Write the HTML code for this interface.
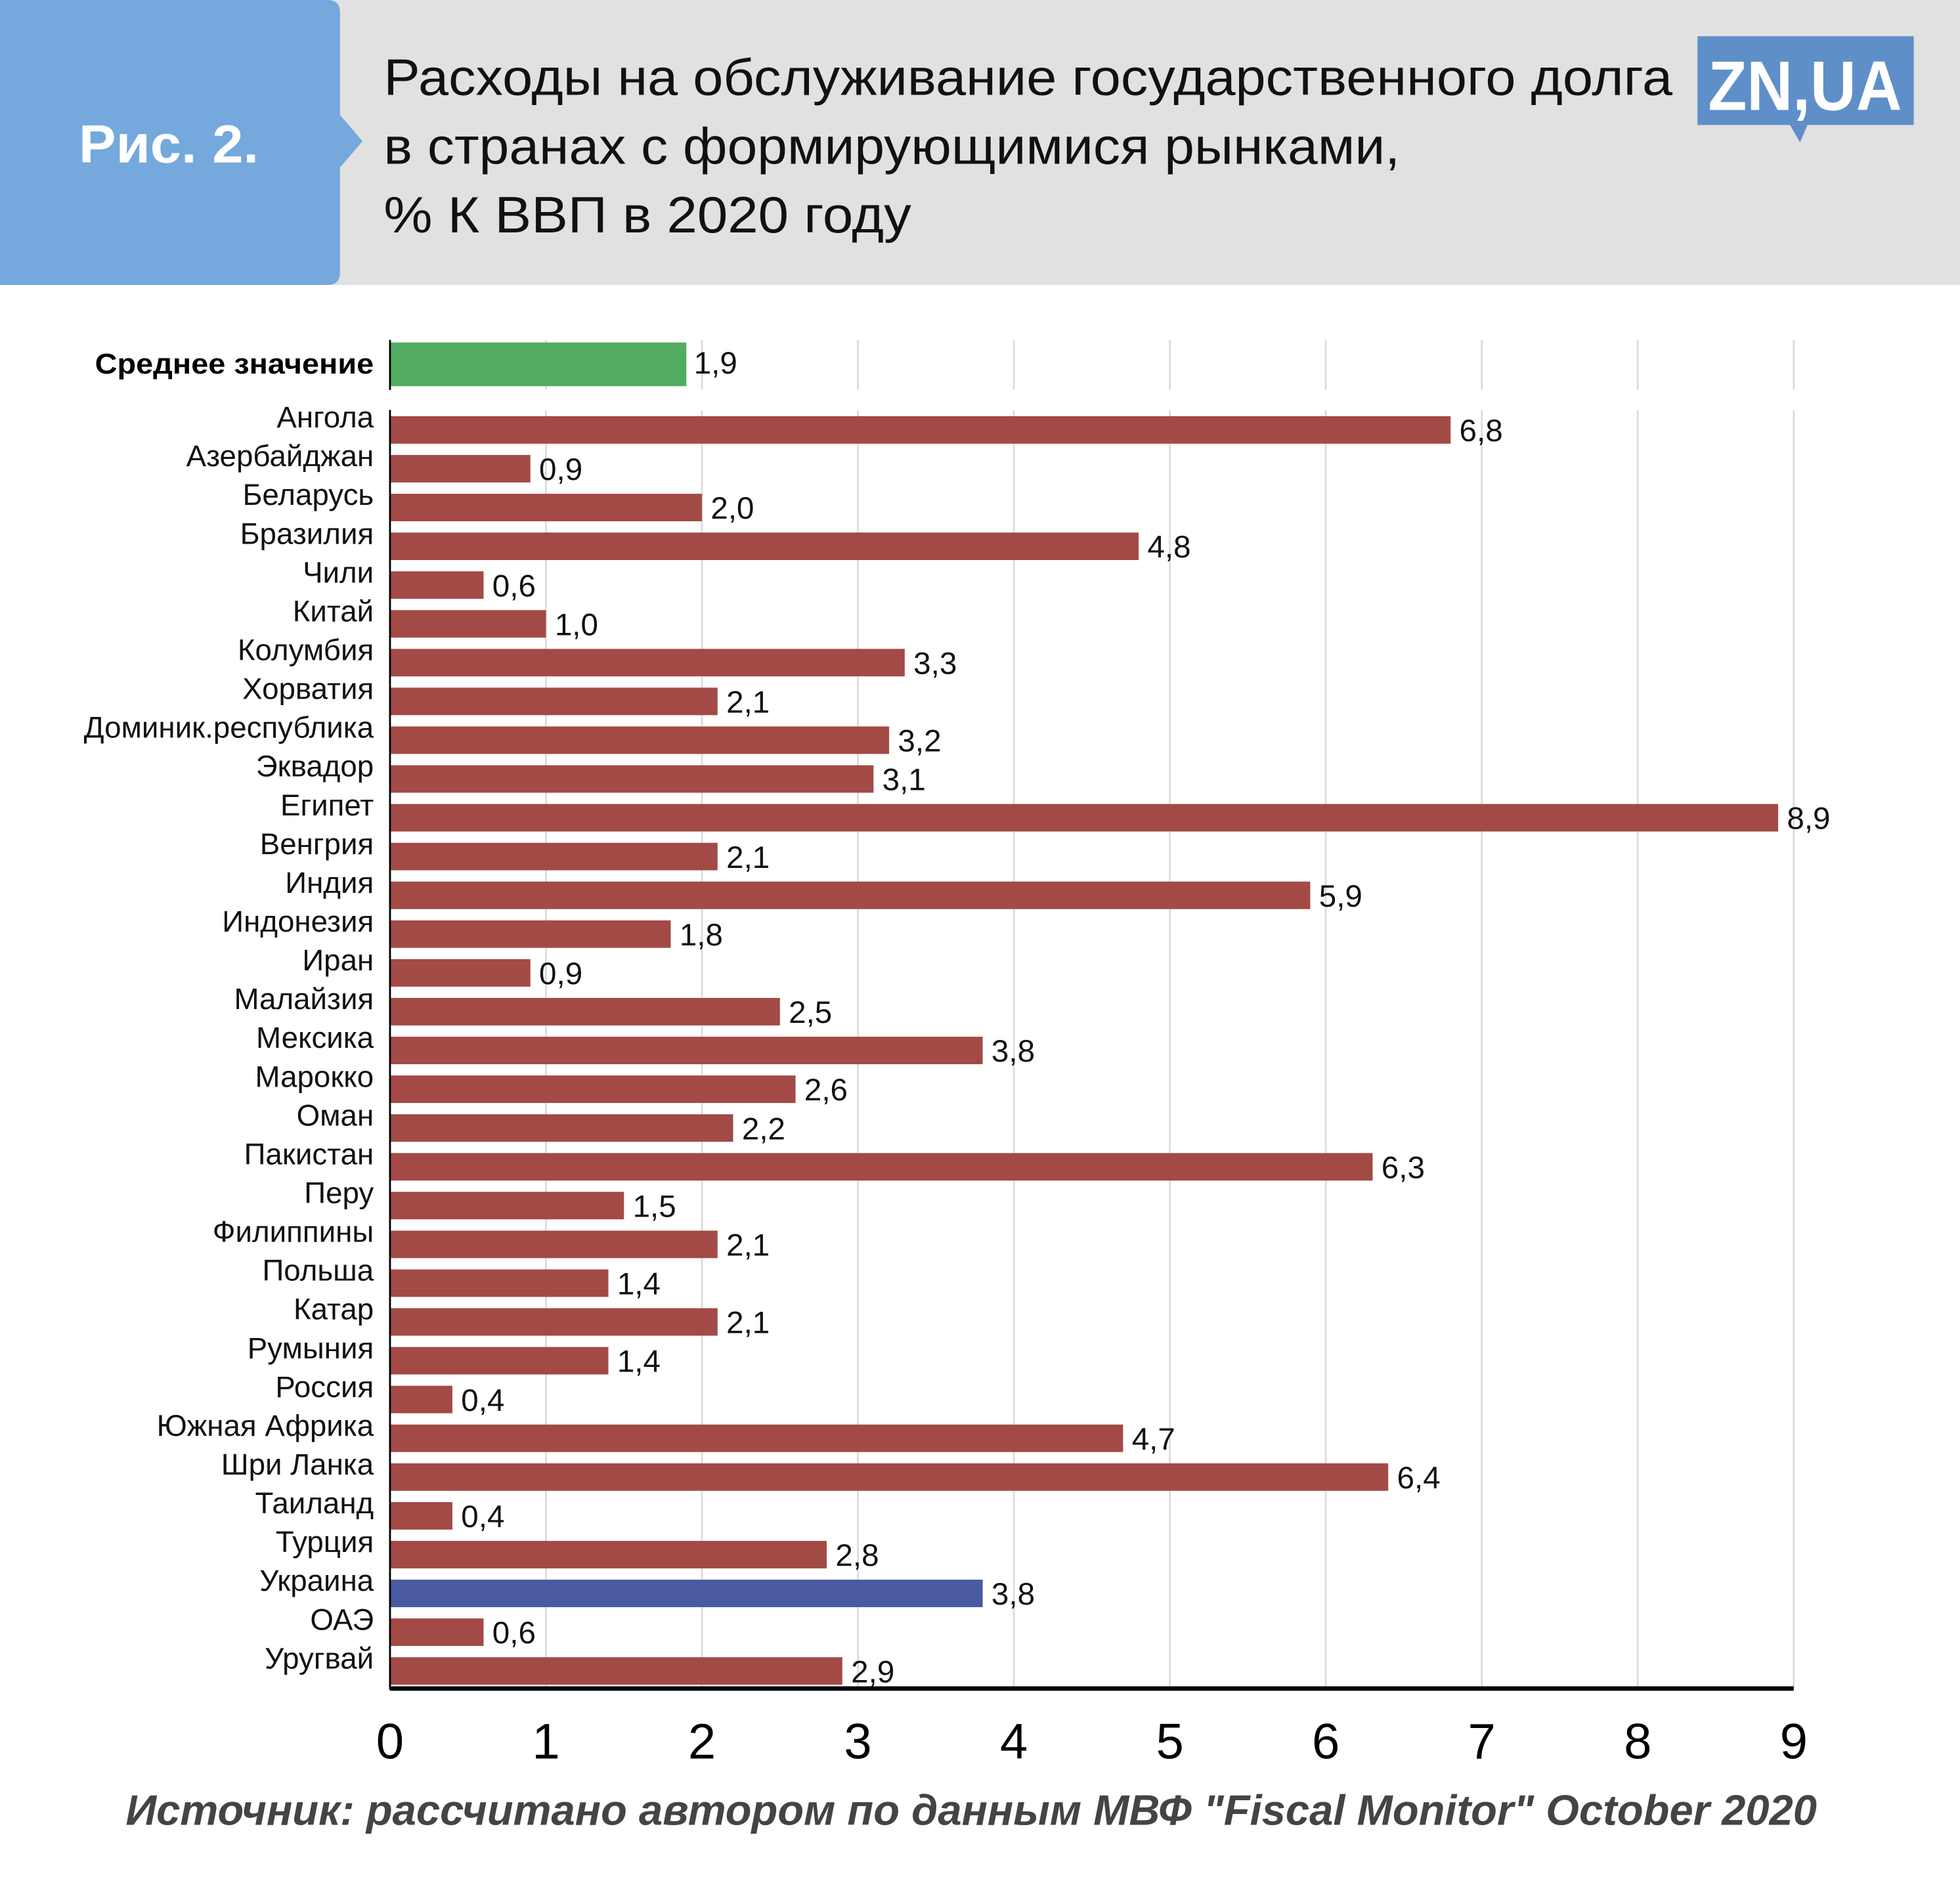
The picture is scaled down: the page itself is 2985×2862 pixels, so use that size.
<!DOCTYPE html>
<html><head><meta charset="utf-8"><style>
html,body{margin:0;padding:0;background:#fff}
svg{display:block}
text{font-family:"Liberation Sans","DejaVu Sans",sans-serif}
</style></head><body>
<svg id="chart" width="2985" height="2862" viewBox="0 0 1568 1503.4" xmlns="http://www.w3.org/2000/svg">
<rect x="0" y="0" width="1568" height="228" fill="#e1e1e1"/>
<path d="M0 0 H262 Q272 0 272 10 V92 L290 113 L272 134 V218 Q272 228 262 228 H0 Z" fill="#75a8dc"/>
<text x="135" y="130" text-anchor="middle" font-size="43" font-weight="bold" fill="#fff" textLength="144" lengthAdjust="spacingAndGlyphs">Рис. 2.</text>
<text font-size="41" fill="#111">
<tspan x="307" y="76" textLength="1031" lengthAdjust="spacingAndGlyphs">Расходы на обслуживание государственного долга</tspan>
<tspan x="307" y="131" textLength="813" lengthAdjust="spacingAndGlyphs">в странах с формирующимися рынками,</tspan>
<tspan x="307" y="186" textLength="422" lengthAdjust="spacingAndGlyphs">% К ВВП в 2020 году</tspan></text>
<g>
<rect x="1358" y="29" width="173" height="71" fill="#5f8fc8"/>
<path d="M1432 100 L1440 114 L1446 100 Z" fill="#5f8fc8"/>
<text x="1444" y="88" text-anchor="middle" font-size="56" font-weight="bold" fill="#fff" textLength="155" lengthAdjust="spacingAndGlyphs">ZN,UA</text>
</g>
<g id="grid"></g>
<g id="bars"></g>
<g id="axis"></g>
<text x="777" y="1460" text-anchor="middle" font-size="34" font-weight="bold" font-style="italic" fill="#444" textLength="1353" lengthAdjust="spacingAndGlyphs">Источник: рассчитано автором по данным МВФ "Fiscal Monitor" October 2020</text>
</svg>
<script>
const categories = ["Ангола","Азербайджан","Беларусь","Бразилия","Чили","Китай","Колумбия","Хорватия","Доминик.республика","Эквадор","Египет","Венгрия","Индия","Индонезия","Иран","Малайзия","Мексика","Марокко","Оман","Пакистан","Перу","Филиппины","Польша","Катар","Румыния","Россия","Южная Африка","Шри Ланка","Таиланд","Турция","Украина","ОАЭ","Уругвай"];
const values = [6.8,0.9,2.0,4.8,0.6,1.0,3.3,2.1,3.2,3.1,8.9,2.1,5.9,1.8,0.9,2.5,3.8,2.6,2.2,6.3,1.5,2.1,1.4,2.1,1.4,0.4,4.7,6.4,0.4,2.8,3.8,0.6,2.9];
const meanLabel = "Среднее значение";
const meanValue = 1.9;
const highlight = "Украина";
const ticks = [0,1,2,3,4,5,6,7,8,9];

const NS = "http://www.w3.org/2000/svg";
const X0 = 312, X1 = 1435, MAXV = 9;
const xs = v => X0 + (X1 - X0) * v / MAXV;
const BAR_TOP0 = 333, STEP = 31.03, BAR_H = 22;
const ys = i => BAR_TOP0 + i * STEP;
const fmt = v => v.toFixed(1).replace('.', ',');
function mk(tag, attrs, parent, txt) {
  const el = document.createElementNS(NS, tag);
  for (const k in attrs) el.setAttribute(k, attrs[k]);
  if (txt !== undefined) el.textContent = txt;
  parent.appendChild(el);
  return el;
}
const grid = document.getElementById('grid');
const bars = document.getElementById('bars');
const axis = document.getElementById('axis');
ticks.forEach(t => {
  if (t === 0) return;
  const g1 = mk('line', {x1: xs(t), x2: xs(t), y1: 272, y2: 312, stroke: '#dcdcdc', 'stroke-width': 1.5}, grid);
  
  
  const g2 = mk('line', {x1: xs(t), x2: xs(t), y1: 328, y2: 1350, stroke: '#dcdcdc', 'stroke-width': 1.5}, grid);
  
  
});
const mb = mk('rect', {x: X0, y: 274, width: xs(meanValue) - X0, height: 35, fill: '#52ad62'}, bars);


const ml = mk('text', {x: 299, y: 299, 'text-anchor': 'end', 'font-size': 23, 'font-weight': 'bold', fill: '#000', textLength: 223, lengthAdjust: 'spacingAndGlyphs'}, bars, meanLabel);


const mv = mk('text', {x: xs(meanValue) + 6, y: 299, 'font-size': 25, fill: '#111'}, bars, fmt(meanValue));


mk('line', {x1: X0, x2: X0, y1: 272, y2: 312, stroke: '#000', 'stroke-width': 1.5}, axis);

categories.forEach((c, i) => {
  const v = values[i];
  const y = ys(i);
  const r = mk('rect', {x: X0, y: y, width: xs(v) - X0, height: BAR_H, fill: c === highlight ? '#4a5aa0' : '#a34a46'}, bars);
  
  
  const l = mk('text', {x: 299, y: y + 9, 'text-anchor': 'end', 'font-size': 24, fill: '#111'}, bars, c);
  
  
  const t = mk('text', {x: xs(v) + 7, y: y + 20, 'font-size': 25, fill: '#111'}, bars, fmt(v));
  
  
});
const ax = mk('line', {x1: X0, x2: X1, y1: 1351, y2: 1351, stroke: '#000', 'stroke-width': 3.5}, axis);


const ay = mk('line', {x1: X0, x2: X0, y1: 328, y2: 1352, stroke: '#000', 'stroke-width': 1.5}, axis);


ticks.forEach(t => {
  const tl = mk('text', {x: xs(t), y: 1407, 'text-anchor': 'middle', 'font-size': 40, fill: '#000'}, axis, String(t));
  
  
});
</script>
</body></html>
